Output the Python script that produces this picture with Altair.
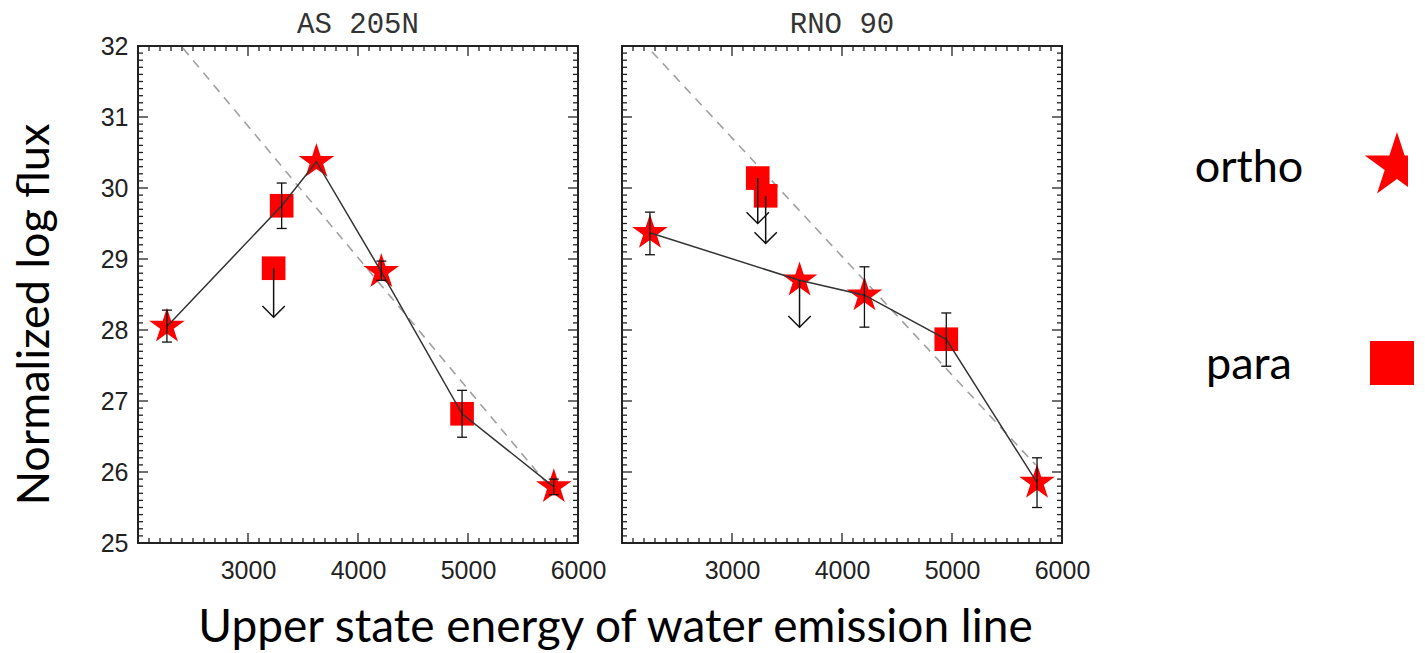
import altair as alt
import pandas as pd

# ---------------- data ----------------
panel_names = ["AS 205N", "RNO 90"]

# AS 205N
as_energy = [2263, 3306, 3233, 3622, 4212, 4946, 5780]
as_flux = [28.05, 29.75, 28.87, 30.37, 28.82, 26.82, 25.79]
as_err_low = [27.83, 29.43, 28.18, 30.37, 28.70, 26.49, 25.68]
as_err_high = [28.28, 30.07, 28.87, 30.37, 28.97, 27.15, 25.90]
as_species = ["ortho", "para", "para", "ortho", "ortho", "para", "ortho"]
as_upper_limit = [False, False, True, False, False, False, False]
as_on_line = [True, True, False, True, True, True, True]
as_dash_energy = [2408, 5780]
as_dash_flux = [31.97, 25.72]

# RNO 90
rno_energy = [2254, 3234, 3306, 3614, 4204, 4948, 5773]
rno_flux = [29.37, 30.14, 29.89, 28.70, 28.49, 27.87, 25.85]
rno_err_low = [29.06, 29.50, 29.22, 28.04, 28.04, 27.49, 25.50]
rno_err_high = [29.66, 30.14, 29.89, 28.70, 28.89, 28.24, 26.20]
rno_species = ["ortho", "para", "para", "ortho", "ortho", "para", "ortho"]
rno_upper_limit = [False, True, True, True, False, False, False]
rno_on_line = [True, False, False, True, True, True, True]
rno_dash_energy = [2272, 5760]
rno_dash_flux = [31.92, 26.10]

x_tick_labels = [3000, 4000, 5000, 6000]
y_tick_labels = [25, 26, 27, 28, 29, 30, 31, 32]
legend_labels = ["ortho", "para"]

x_title = "Upper state energy of water emission line"
y_title = "Normalized log flux"

# ---------------- styling ----------------
W, H = 440, 497
FRAME = "#222222"
RED = "#ff0000"
STAR = ("M0,-1L0.2245,-0.309L0.951,-0.309L0.363,0.118L0.588,0.809L0,0.382"
        "L-0.588,0.809L-0.363,0.118L-0.951,-0.309L-0.2245,-0.309Z")
VHEAD = "M-1,-1L0,0L1,-1"

x_major = [2000 + 1000 * i for i in range(5)]
x_minor = [v for v in range(2100, 6000, 100) if v % 1000 != 0]
y_major = list(range(25, 33))
y_minor = [round(25 + 0.1 * i, 1) for i in range(1, 70) if i % 10 != 0]


def make_panel(name, energy, flux, lo, hi, species, limit, on_line,
               dash_e, dash_f, first):
    xs = alt.Scale(domain=[2000, 6000], nice=False, zero=False)
    ys = alt.Scale(domain=[25, 32], nice=False, zero=False)
    if first:
        xaxis = alt.Axis(values=x_tick_labels, labelFont="Liberation Sans",
                         labelFontSize=25, labelColor="#222", labelPadding=15,
                         labelFlush=False, labelOverlap=False, format="d",
                         title=x_title, titleFont="Lato", titleFontSize=46,
                         titleFontWeight="normal", titleColor="black",
                         titleX=477, titleY=98, titleAlign="center",
                         titleBaseline="alphabetic")
        yaxis = alt.Axis(values=y_tick_labels, labelFont="Liberation Sans",
                         labelFontSize=25, labelColor="#222", labelPadding=10,
                         labelOverlap=False, format="d",
                         title=y_title, titleFont="Lato", titleFontSize=45,
                         titleFontWeight="normal", titleColor="black",
                         titleX=-90, titleY=268, titleAngle=270,
                         titleAlign="center", titleBaseline="alphabetic")
    else:
        xaxis = alt.Axis(values=x_tick_labels, labelFont="Liberation Sans",
                         labelFontSize=25, labelColor="#222", labelPadding=15,
                         labelFlush=False, labelOverlap=False, format="d",
                         title="")
        # same (invisible) labels so both panels have equal bounds
        yaxis = alt.Axis(values=y_tick_labels, labelFont="Liberation Sans",
                         labelFontSize=25, labelColor="transparent",
                         labelPadding=10, labelOverlap=False, format="d",
                         title="")

    def X(f):
        return alt.X(f, type="quantitative", scale=xs, axis=xaxis)

    def Y(f):
        return alt.Y(f, type="quantitative", scale=ys, axis=yaxis)

    df = pd.DataFrame(dict(energy=energy, flux=flux, err_low=lo, err_high=hi,
                           species=species, upper_limit=limit, on_line=on_line))
    dash = pd.DataFrame(dict(energy=dash_e, flux=dash_f))

    layers = []
    # inward frame ticks
    for vals, L in ((x_major, 10), (x_minor, 5)):
        td = pd.DataFrame({"t": vals})
        base = alt.Chart(td).mark_rule(color=FRAME, strokeWidth=1.3)
        layers.append(base.encode(x=X("t"), y=alt.value(H), y2=alt.value(H - L)))
        layers.append(base.encode(x=X("t"), y=alt.value(0), y2=alt.value(L)))
    for vals, L in ((y_major, 10), (y_minor, 5)):
        td = pd.DataFrame({"t": vals})
        base = alt.Chart(td).mark_rule(color=FRAME, strokeWidth=1.3)
        layers.append(base.encode(y=Y("t"), x=alt.value(0), x2=alt.value(L)))
        layers.append(base.encode(y=Y("t"), x=alt.value(W), x2=alt.value(W - L)))

    # dashed reference line
    layers.append(alt.Chart(dash).mark_line(color="#a0a0a0", strokeWidth=1.6,
                                            strokeDash=[9, 7])
                  .encode(x=X("energy"), y=Y("flux")))
    # symbols
    layers.append(alt.Chart(df).transform_filter("datum.species == 'ortho'")
                  .mark_point(shape=STAR, filled=True, color=RED, opacity=1,
                              size=1400, strokeWidth=0)
                  .encode(x=X("energy"), y=Y("flux")))
    layers.append(alt.Chart(df).transform_filter("datum.species == 'para'")
                  .mark_point(shape="square", filled=True, color=RED, opacity=1,
                              size=560, strokeWidth=0)
                  .encode(x=X("energy"), y=Y("flux")))
    # connecting solid line
    layers.append(alt.Chart(df).transform_filter("datum.on_line")
                  .mark_line(color="#333333", strokeWidth=1.5)
                  .encode(x=X("energy"), y=Y("flux")))
    # error bars
    err = alt.Chart(df).transform_filter(
        "!datum.upper_limit && datum.err_high > datum.err_low")
    layers.append(err.mark_rule(color="#111", strokeWidth=1.3)
                  .encode(x=X("energy"), y=Y("err_low"), y2=alt.Y2("err_high")))
    layers.append(err.mark_tick(orient="horizontal", color="#111", size=10,
                                thickness=1.3, opacity=1)
                  .encode(x=X("energy"), y=Y("err_low")))
    layers.append(err.mark_tick(orient="horizontal", color="#111", size=10,
                                thickness=1.3, opacity=1)
                  .encode(x=X("energy"), y=Y("err_high")))
    # upper limit arrows
    lim = alt.Chart(df).transform_filter("datum.upper_limit")
    layers.append(lim.mark_rule(color="#111", strokeWidth=1.5)
                  .encode(x=X("energy"), y=Y("flux"), y2=alt.Y2("err_low")))
    layers.append(lim.mark_point(shape=VHEAD, filled=False, color="#111",
                                 size=500, strokeWidth=1.5, opacity=1)
                  .encode(x=X("energy"), y=Y("err_low")))

    return alt.layer(*layers).properties(
        width=W, height=H,
        title=alt.TitleParams(name, font="Liberation Mono", fontSize=29,
                              fontWeight="normal", color="#333",
                              anchor="middle", frame="group", offset=-5))


left = make_panel(panel_names[0], as_energy, as_flux, as_err_low, as_err_high,
                  as_species, as_upper_limit, as_on_line,
                  as_dash_energy, as_dash_flux, True)
right = make_panel(panel_names[1], rno_energy, rno_flux, rno_err_low,
                   rno_err_high, rno_species, rno_upper_limit, rno_on_line,
                   rno_dash_energy, rno_dash_flux, False)

# manual legend panel
leg = pd.DataFrame({"label": legend_labels})
ly = alt.Y("label:N", axis=None,
           scale=alt.Scale(type="point", domain=legend_labels,
                           range=[120, 317], padding=0))
leg_text = alt.Chart(leg).mark_text(font="Lato", fontSize=45, color="black",
                                    align="center", baseline="alphabetic",
                                    dy=16).encode(x=alt.value(143), y=ly,
                                                  text="label:N")
leg_star = (alt.Chart(leg).transform_filter("datum.label == 'ortho'")
            .mark_point(shape=STAR, filled=True, color=RED, opacity=1,
                        size=4600, strokeWidth=0, clip=True)
            .encode(x=alt.value(291), y=ly))
leg_sq = (alt.Chart(leg).transform_filter("datum.label == 'para'")
          .mark_point(shape="square", filled=True, color=RED, opacity=1,
                      size=1936, strokeWidth=0)
          .encode(x=alt.value(286), y=ly))
legend_panel = alt.layer(leg_text, leg_star, leg_sq).properties(
    width=302, height=H, view=alt.ViewBackground(stroke="transparent"))

chart = alt.hconcat(left, right, legend_panel, spacing=44, bounds="flush").properties(
    padding={"left": 2, "top": 1, "right": 0, "bottom": 0},
    background="white",
).configure_view(stroke=FRAME, strokeWidth=2).configure_axis(
    grid=False, ticks=False, domain=False)

chart.save("out.html", embed_options={"renderer": "svg", "actions": False})
